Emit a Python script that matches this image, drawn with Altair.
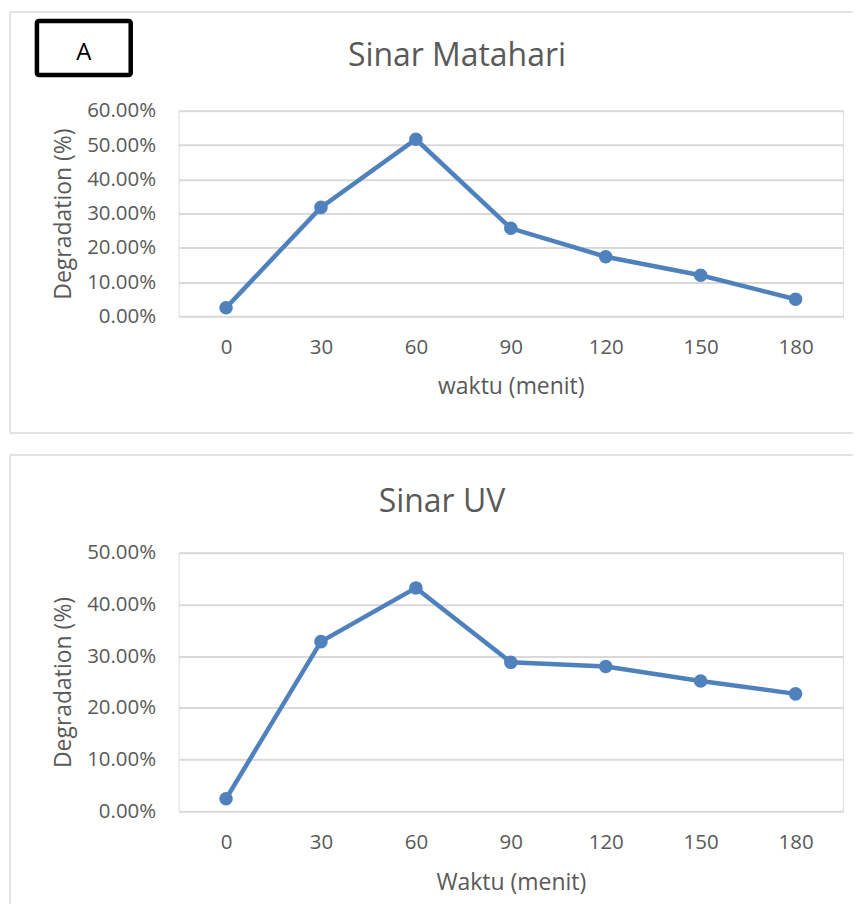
import altair as alt
import pandas as pd

minutes = ["0", "30", "60", "90", "120", "150", "180"]
sun_values = [0.025, 0.318, 0.517, 0.257, 0.174, 0.120, 0.050]
uv_values = [0.024, 0.328, 0.432, 0.288, 0.280, 0.252, 0.227]

sun_ticks = [0.0, 0.1, 0.2, 0.3, 0.4, 0.5, 0.6]
uv_ticks = [0.0, 0.1, 0.2, 0.3, 0.4, 0.5]

BLUE = "#4F81BD"
GREY_TXT = "#595959"
GRID = "#D9D9D9"
FONT = "Open Sans"
W = 666


def panel(values, ticks, height, title, xtitle, title_pos, xtitle_y, show_box):
    df = pd.DataFrame({"menit": minutes, "deg": values})
    one = pd.DataFrame({"k": [0]})
    x = alt.X("menit:O", sort=minutes,
              scale=alt.Scale(type="point", padding=0.5),
              axis=alt.Axis(title=xtitle, labelAngle=0, labelFont=FONT, labelFontSize=20.5,
                            labelColor=GREY_TXT, labelPadding=21, ticks=False, tickSize=0,
                            domain=False, grid=False, titleFont=FONT, titleFontSize=23,
                            titleFontWeight="normal", titleColor=GREY_TXT,
                            titleY=xtitle_y, titleBaseline="middle"))
    y = alt.Y("deg:Q", scale=alt.Scale(domain=[ticks[0], ticks[-1]], nice=False),
              axis=alt.Axis(title="Degradation (%)", values=ticks, format=".2%",
                            labelFont=FONT, labelFontSize=20.5, labelColor=GREY_TXT,
                            labelPadding=23, ticks=False, tickSize=0, domain=False,
                            grid=True, gridColor=GRID, gridWidth=2,
                            titleFont=FONT, titleFontSize=23, titleFontWeight="normal",
                            titleColor=GREY_TXT, titleX=-115, titleY=height / 2,
                            titleAngle=270, titleAlign="center", titleBaseline="middle"))
    base = alt.Chart(df).encode(x=x, y=y)
    line = base.mark_line(color=BLUE, strokeWidth=4.5)
    pts = base.mark_point(filled=True, color=BLUE, size=185, opacity=1)

    top = -99 if show_box else -98
    bottom = height + 117 if show_box else height + 93
    deco = alt.Chart(one)
    rules = [
        deco.mark_rule(color=GRID, strokeWidth=1.5).encode(
            x=alt.value(-169), x2=alt.value(676), y=alt.value(top)),
        deco.mark_rule(color=GRID, strokeWidth=1.5).encode(
            x=alt.value(-169), y=alt.value(top), y2=alt.value(bottom)),
    ]
    if show_box:
        rules.append(deco.mark_rule(color=GRID, strokeWidth=1.5).encode(
            x=alt.value(-169), x2=alt.value(676), y=alt.value(bottom)))
    ttl = deco.mark_text(text=title, font=FONT, fontSize=32, color=GREY_TXT,
                         align="center", baseline="middle").encode(
        x=alt.value(title_pos[0]), y=alt.value(title_pos[1]))
    layers = rules + [ttl]
    if show_box:
        box = deco.mark_rect(fill="white", stroke="black", strokeWidth=4.5,
                             cornerRadius=2).encode(
            x=alt.value(-142), x2=alt.value(-48), y=alt.value(-90), y2=alt.value(-36))
        lbl = deco.mark_text(text="A", font=FONT, fontSize=24, color="black",
                             align="center", baseline="middle").encode(
            x=alt.value(-95), y=alt.value(-58))
        layers += [box, lbl]
    return alt.layer(*layers, line, pts).properties(width=W, height=height)


top_chart = panel(sun_values, sun_ticks, 206, "Sinar Matahari", "waktu (menit)",
                  (279, -55), 70, True)
bottom_chart = panel(uv_values, uv_ticks, 259, "Sinar UV", "Waktu (menit)",
                     (264, -51), 72, False)

chart = alt.vconcat(top_chart, bottom_chart, spacing=18).properties(
    padding={"left": 0, "top": 1, "right": 0, "bottom": 0}
).configure_view(stroke=None).configure(background="white")

chart.save("out.html", embed_options={"renderer": "svg", "actions": False})
